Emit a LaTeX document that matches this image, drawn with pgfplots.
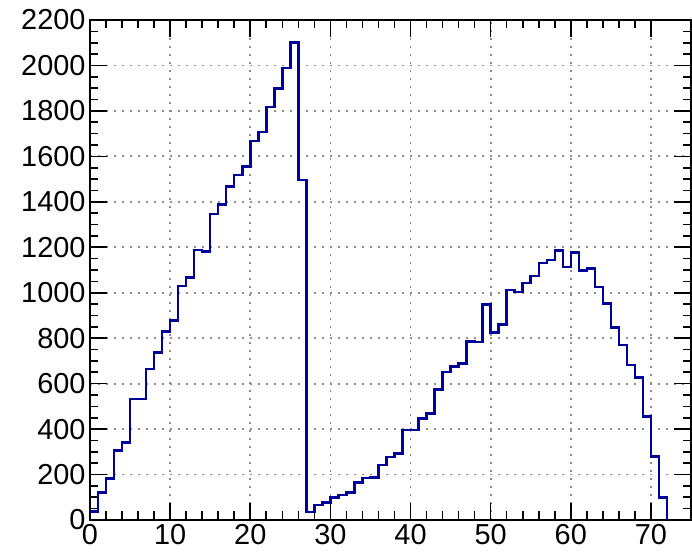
\documentclass[border=0pt]{standalone}
\usepackage{fontspec}
\setmainfont{Liberation Sans}
\usepackage{pgfplots}
\pgfplotsset{compat=1.18}
\definecolor{histblue}{RGB}{0,0,155}

\begin{document}
\begin{tikzpicture}
\begin{axis}[
  name=ax,
  scale only axis,
  width=601bp, height=500bp,
  xmin=0, xmax=75,
  ymin=0, ymax=2200,
  xtick={0,10,...,70},
  ytick={0,200,...,2200},
  minor x tick num=4,
  minor y tick num=3,
  tick align=inside,
  major tick length=17bp,
  minor tick length=8.5bp,
  every tick/.style={black, line width=1.6bp},
  axis line style={line width=2.4bp},
  xmajorgrids, ymajorgrids,
  major grid style={gray!90, line width=1.8bp, dash pattern=on 1.8bp off 6.2bp},
  /pgf/number format/assume math mode=true,
  /pgf/number format/set thousands separator={},
  tick label style={font=\fontsize{29}{34}\selectfont},
  xticklabel style={yshift=-1bp},
  yticklabel style={xshift=-1bp},
  clip=false,
]
\addplot[const plot mark left, histblue, line width=2.5bp] coordinates {
 (0,37) (1,121) (2,182) (3,306) (4,341) (5,533) (6,533) (7,664) (8,736) (9,829)
 (10,877) (11,1030) (12,1067) (13,1189) (14,1182) (15,1347) (16,1388) (17,1468) (18,1517) (19,1556)
 (20,1668) (21,1708) (22,1818) (23,1898) (24,1989) (25,2102) (26,1495) (27,35) (28,65) (29,77)
 (30,100) (31,109) (32,122) (33,165) (34,185) (35,187) (36,242) (37,278) (38,292) (39,396)
 (40,396) (41,446) (42,468) (43,574) (44,651) (45,675) (46,688) (47,785) (48,784) (49,949)
 (50,824) (51,861) (52,1012) (53,1004) (54,1042) (55,1073) (56,1131) (57,1144) (58,1185) (59,1114)
 (60,1176) (61,1098) (62,1107) (63,1025) (64,953) (65,846) (66,771) (67,683) (68,626) (69,456)
 (70,280) (71,99) (72,0)
};
\end{axis}
\pgfresetboundingbox
\path[use as bounding box] ([xshift=-90bp,yshift=-35bp]ax.south west) rectangle ([xshift=1bp,yshift=20bp]ax.north east);
\end{tikzpicture}
\end{document}
